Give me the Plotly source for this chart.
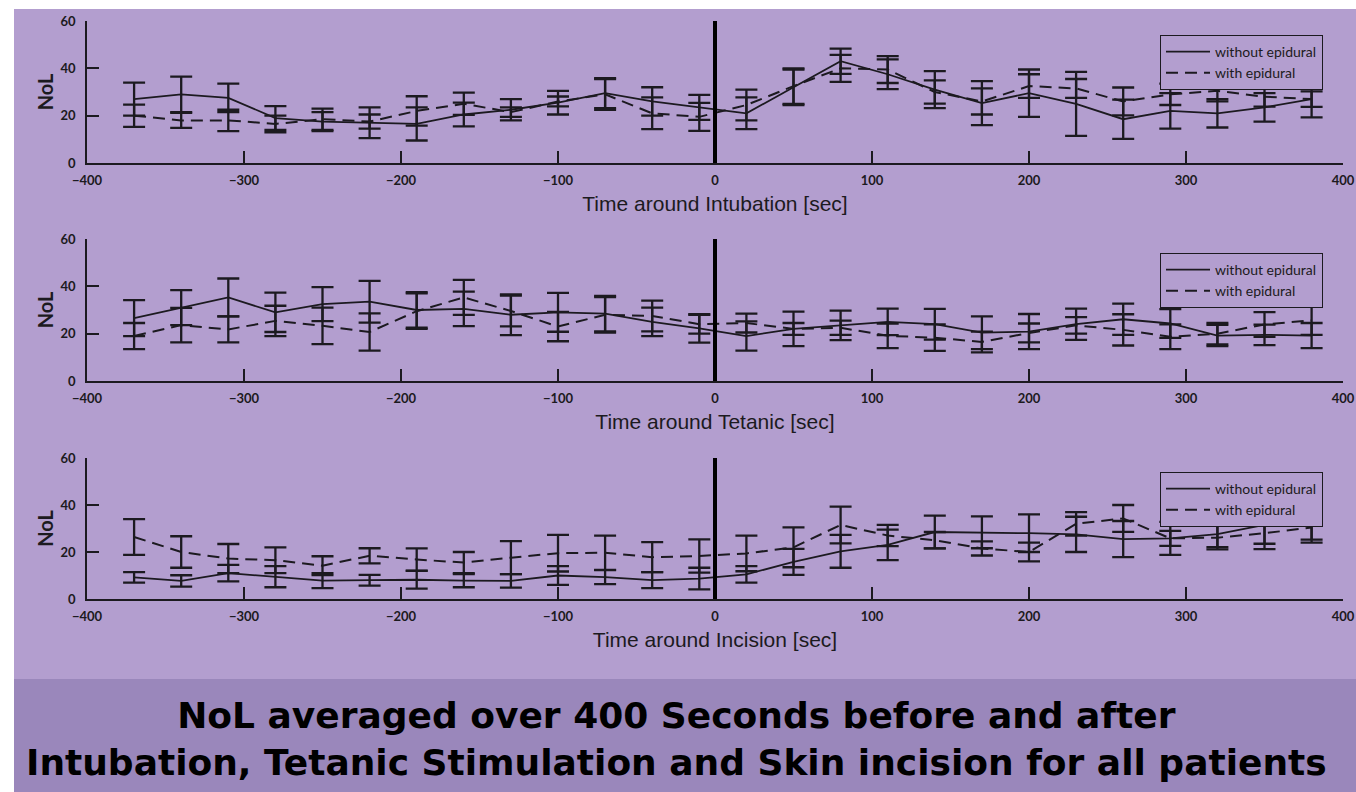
import plotly.graph_objects as go

# ---------------- data ----------------
TIME = [-370, -340, -310, -280, -250, -220, -190, -160, -130, -100, -70, -40, -10,
        20, 50, 80, 110, 140, 170, 200, 230, 260, 290, 320, 350, 380]

# Intubation
intub_without = [27, 29, 27.5, 19, 17.5, 17, 16.5, 20.5, 22.5, 25.5, 29.5, 26, 23.5,
                 21, 32, 43, 37.5, 31, 25.3, 29.5, 25, 18.5, 22, 21, 23.5, 27]
intub_without_err = [7, 7.5, 6, 5, 4, 6.5, 7, 5, 4.5, 5, 6.3, 6, 5.3,
                     6.7, 7.5, 5.3, 6.3, 7.8, 9.3, 10, 13.5, 8.3, 7.5, 6, 6, 7.7]
intub_with = [20, 18, 18, 16.5, 18.5, 17.5, 22, 25, 21.5, 26, 29, 21, 19.5,
              24.5, 32.5, 40, 39.5, 30, 26, 32.5, 31.5, 26, 29, 30.5, 28, 27]
intub_with_err = [4.7, 3.2, 4.5, 3.5, 4.5, 3, 6.2, 4.7, 2, 2.1, 6.5, 6.7, 5.9,
                  6.5, 7.5, 5.7, 5.7, 4.9, 5.5, 5, 4, 5.9, 4.5, 4.5, 4.2, 3.3]

# Tetanic
tet_without = [26.6, 31, 35.3, 29, 32.5, 33.5, 30, 30.5, 28, 29, 28.5, 25, 22.2,
               19, 22, 23.5, 25, 24, 20.4, 20.9, 24, 26.1, 24.3, 19.2, 19.5, 19.2]
tet_without_err = [7.6, 7.4, 8, 8.3, 7.2, 8.8, 7.5, 7.3, 8.6, 8.2, 7.5, 6, 6,
                   6.2, 7.3, 6.2, 5.6, 6.5, 6.9, 7.4, 6.6, 6.6, 6.1, 4.5, 4.3, 5.3]
tet_with = [19, 23.6, 21.8, 25.4, 23.3, 20.7, 29.5, 35.3, 29.6, 23, 28, 27.5, 24,
            24.5, 22, 22.5, 19.1, 18.3, 16.5, 20.3, 23.5, 21.6, 18.7, 20, 23.9, 25.6]
tet_with_err = [5.5, 7.3, 5.5, 6.4, 7.7, 7.9, 7.5, 7.4, 6.5, 6.2, 7.5, 6.5, 4,
                4, 2.5, 3, 5.2, 5.6, 4.4, 4, 3.5, 6.6, 5.2, 4.5, 5.2, 6.1]

# Incision
inc_without = [9.2, 7.7, 11, 9.5, 7.8, 8, 8.2, 7.8, 7.7, 10, 9.3, 8, 8.7,
               10.5, 15.8, 20.3, 23, 28.5, 28.4, 28, 27.5, 25.5, 25.8, 27.6, 31.5, 35.3]
inc_without_err = [2.2, 2.4, 3.5, 4.5, 3.2, 2.3, 3.8, 2.8, 2.9, 4, 3, 3.4, 4.6,
                   3.5, 5.5, 7, 6.5, 7, 6.8, 8, 7.5, 7.7, 7, 5.5, 8, 10]
inc_with = [26.4, 20, 17.2, 16.5, 14.2, 18.4, 16.8, 15.5, 17.6, 19.5, 19.7, 17.8, 18.3,
            19.4, 22, 31.5, 27, 25, 21.5, 20, 32, 34.3, 25.8, 26.1, 28, 30.4]
inc_with_err = [7.6, 6.7, 6.2, 5.5, 4, 3.2, 4.7, 4.5, 7, 7.8, 7.3, 6.4, 7.1,
                7.6, 8.5, 7.8, 4.5, 3.5, 3, 4, 5, 5.7, 3.2, 5, 6.8, 6.4]

PANELS = [
    ("Time around Intubation [sec]", intub_without, intub_without_err, intub_with, intub_with_err),
    ("Time around Tetanic [sec]", tet_without, tet_without_err, tet_with, tet_with_err),
    ("Time around Incision [sec]", inc_without, inc_without_err, inc_with, inc_with_err),
]
SERIES_NAMES = ["without epidural", "with epidural"]
X_TICKS = [-400, -300, -200, -100, 0, 100, 200, 300, 400]
Y_TICKS = [0, 20, 40, 60]
EVENT_TIME = 0
Y_TITLE = "NoL"
FOOTER = ("NoL averaged over 400 Seconds before and after<br>"
          "Intubation, Tetanic Stimulation and Skin incision for all patients")

# ---------------- style ----------------
W, H = 1356, 792
BG = "#b39ecf"
BAND = "#9a87bb"
INK = "#1c1a20"

def py(px):
    return 1 - px / H

x_dom = [87 / W, 1343 / W]
y_doms = [[py(163), py(21)], [py(381), py(239)], [py(599), py(458)]]
legend_tops = [35, 253, 472]

fig = go.Figure()
layout = dict(
    width=W, height=H, autosize=False,
    margin=dict(l=0, r=0, t=0, b=0, pad=0, autoexpand=False),
    paper_bgcolor="white",
    plot_bgcolor="rgba(0,0,0,0)",
    showlegend=True,
    shapes=[
        dict(type="rect", xref="paper", yref="paper", x0=14 / W, x1=1, y0=py(679), y1=py(9),
             fillcolor=BG, line=dict(width=0), layer="below"),
        dict(type="rect", xref="paper", yref="paper", x0=14 / W, x1=1, y0=0, y1=py(679),
             fillcolor=BAND, line=dict(width=0), layer="below"),
    ],
    annotations=[
        dict(text=FOOTER, xref="paper", yref="paper", x=676 / W, y=py(739),
             xanchor="center", yanchor="middle", showarrow=False,
             font=dict(family="DejaVu Sans", size=36, color="black", weight="bold"),
             align="center")
    ],
)

for i, (xtitle, wo, wo_err, wi, wi_err) in enumerate(PANELS):
    n = i + 1
    xa = "x" if n == 1 else f"x{n}"
    ya = "y" if n == 1 else f"y{n}"
    leg = "legend" if n == 1 else f"legend{n}"
    for name, vals, errs, dash, lw in [
        (SERIES_NAMES[0], wo, wo_err, "solid", 1.8),
        (SERIES_NAMES[1], wi, wi_err, "12px,7px", 2.0),
    ]:
        fig.add_trace(go.Scatter(
            x=TIME, y=vals, mode="lines", name=name,
            line=dict(color=INK, width=lw, dash=dash),
            error_y=dict(type="data", array=errs, visible=True,
                         color=INK, thickness=2.3, width=11),
            xaxis=xa, yaxis=ya, legend=leg, hoverinfo="skip",
        ))
    axis_common = dict(showgrid=False, zeroline=False, showline=True, automargin=False,
                       linecolor=INK, linewidth=1.5, ticks="inside", ticklen=12,
                       tickwidth=1.5, tickcolor=INK,
                       tickfont=dict(family="Lato", size=13, color=INK, weight="bold"))
    xkey = "xaxis" if n == 1 else f"xaxis{n}"
    ykey = "yaxis" if n == 1 else f"yaxis{n}"
    layout[xkey] = dict(axis_common, domain=x_dom, anchor=ya, range=[-400, 400],
                        tickvals=X_TICKS, ticklabelstandoff=5,
                        title=dict(text=xtitle, standoff=9,
                                   font=dict(family="Liberation Sans", size=21, color=INK)))
    layout[ykey] = dict(axis_common, domain=y_doms[i], anchor=xa, range=[0, 60],
                        tickvals=Y_TICKS, ticklabelstandoff=7,
                        title=dict(text=Y_TITLE, standoff=2,
                                   font=dict(family="Lato", size=20, color=INK, weight="bold")))
    layout[leg] = dict(x=1160 / W, y=py(legend_tops[i]), xanchor="left", yanchor="top",
                       bgcolor=BG, bordercolor=INK, borderwidth=1,
                       font=dict(family="Lato", size=14, color=INK),
                       itemwidth=44, tracegroupgap=0, itemclick=False)
    layout["shapes"].append(dict(type="line", xref=xa, yref=ya, x0=EVENT_TIME, x1=EVENT_TIME,
                                 y0=0, y1=60, line=dict(color="black", width=4)))

fig.update_layout(**layout)
fig.write_html("out.html", config={"displayModeBar": False},
               post_script="document.body.style.margin='0';")
